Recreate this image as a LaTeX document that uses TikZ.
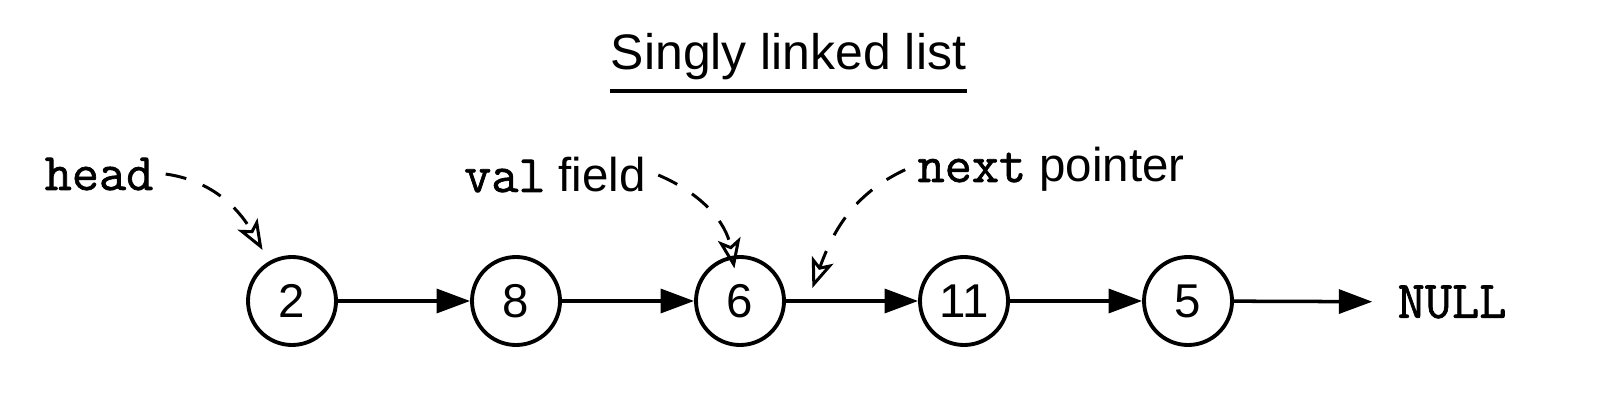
\documentclass[tikz,border=0pt]{standalone}
\usepackage{fontspec}
\setmainfont{Liberation Sans}
\setsansfont{Liberation Sans}
\newfontfamily\codefont{Latin Modern Mono}[FakeBold=1.3]
\usepackage{tikz}
\usetikzlibrary{arrows.meta,positioning}

\newcommand{\code}[1]{{\fontsize{15}{16}\selectfont\codefont #1}}

\begin{document}
\begin{tikzpicture}[
    every node/.style={font=\fontsize{13.5}{16}\selectfont},
    listnode/.style={draw, circle, line width=1.1pt, minimum size=0.88cm, inner sep=0pt},
    link/.style={-{Triangle[length=9.5pt, width=6.8pt]}, line width=1pt},
    pointer/.style={-{Stealth[open, length=8.5pt, width=6.5pt, inset=2pt]}, line width=0.85pt, dash pattern=on 6pt off 5pt}
]
\useasboundingbox (0,0) rectangle (16.06,4.10);

% Titre
\node[anchor=base, inner sep=0pt, font=\fontsize{14.2}{17}\selectfont] (title) at (7.885, 3.40) {Singly linked list};
\draw[line width=0.9pt] ([yshift=-0.21cm]title.base west) -- ([yshift=-0.21cm]title.base east);

% Noeuds de la liste
\node[listnode] (n2) at (2.92, 1.09) {2};
\node[listnode] (n8) at (5.16, 1.09) {8};
\node[listnode] (n6) at (7.40, 1.09) {6};
\node[listnode] (n11) at (9.64, 1.09) {11};
\node[listnode] (n5) at (11.88, 1.09) {5};
\node (null) at (14.52, 1.08) {\code{NULL}};

% Liens next
\draw[link] (n2) -- (n8);
\draw[link] (n8) -- (n6);
\draw[link] (n6) -- coordinate[pos=0.2] (ptr) (n11);
\draw[link] (n11) -- (n5);
\draw[link, shorten >=0.13cm] (n5) -- (null);

% Annotations
\node[anchor=base] (head) at (0.99, 2.20) {\code{head}};
\node[anchor=base] (val) at (5.55, 2.18) {\code{val} field};
\node[anchor=base] (next) at (10.51, 2.28) {\code{next} pointer};

\draw[pointer, shorten >=0.13cm] (head.east) to[out=-8, in=120] (n2);
\draw[pointer] (val.east) to[out=-23, in=100] ([yshift=-0.13cm]n6.97);
\draw[pointer] (next.west) to[out=205, in=70] ([yshift=0.13cm]ptr);

\end{tikzpicture}
\end{document}
